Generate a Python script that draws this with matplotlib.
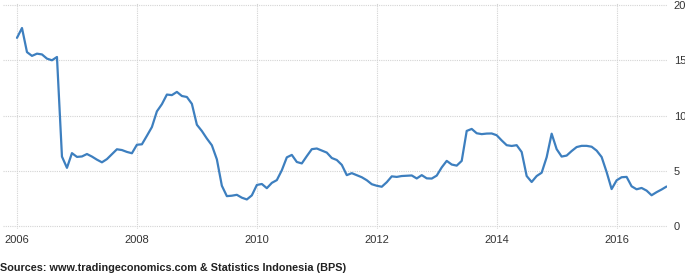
import matplotlib
matplotlib.use("Agg")
import matplotlib.pyplot as plt
import numpy as np

# Indonesia inflation rate (%, YoY), monthly Jan 2006 - Nov 2016
inflation_2006 = [17.03, 17.92, 15.74, 15.40, 15.60, 15.53, 15.15, 15.00, 15.30, 6.29, 5.27, 6.60]
inflation_2007 = [6.26, 6.30, 6.52, 6.29, 6.01, 5.77, 6.06, 6.51, 6.95, 6.88, 6.71, 6.59]
inflation_2008 = [7.36, 7.40, 8.17, 8.96, 10.38, 11.03, 11.90, 11.85, 12.14, 11.77, 11.68, 11.06]
inflation_2009 = [9.17, 8.60, 7.92, 7.31, 6.04, 3.65, 2.71, 2.75, 2.83, 2.57, 2.41, 2.78]
inflation_2010 = [3.72, 3.81, 3.43, 3.91, 4.16, 5.05, 6.22, 6.44, 5.80, 5.67, 6.33, 6.96]
inflation_2011 = [7.02, 6.84, 6.65, 6.16, 5.98, 5.54, 4.61, 4.79, 4.61, 4.42, 4.15, 3.79]
inflation_2012 = [3.65, 3.56, 3.97, 4.50, 4.45, 4.53, 4.56, 4.58, 4.31, 4.61, 4.32, 4.30]
inflation_2013 = [4.57, 5.31, 5.90, 5.57, 5.47, 5.90, 8.61, 8.79, 8.40, 8.32, 8.37, 8.38]
inflation_2014 = [8.22, 7.75, 7.32, 7.25, 7.32, 6.70, 4.53, 3.99, 4.53, 4.83, 6.23, 8.36]
inflation_2015 = [6.96, 6.29, 6.38, 6.79, 7.15, 7.26, 7.26, 7.18, 6.83, 6.25, 4.89, 3.35]
inflation_2016 = [4.14, 4.42, 4.45, 3.60, 3.33, 3.45, 3.21, 2.79, 3.07, 3.31, 3.58]

x_ticks = [2006, 2008, 2010, 2012, 2014, 2016]
y_ticks = [0, 5, 10, 15, 20]
source = "Sources: www.tradingeconomics.com & Statistics Indonesia (BPS)"

values = (inflation_2006 + inflation_2007 + inflation_2008 + inflation_2009 + inflation_2010
          + inflation_2011 + inflation_2012 + inflation_2013 + inflation_2014 + inflation_2015
          + inflation_2016)
years = 2006 + np.arange(len(values)) / 12.0

plt.rcParams['font.family'] = ['Liberation Sans', 'DejaVu Sans']

fig = plt.figure(figsize=(6.85, 2.76), dpi=100)
ax = fig.add_axes([0.0044, 0.170, 0.9693, 0.819])

ax.plot(years, values, color='#3d7fbf', lw=1.6, solid_joinstyle='round', solid_capstyle='round')

ax.set_xlim(2005.767, 2016.84)
ax.set_ylim(-0.27, 20.18)
ax.set_xticks(x_ticks)
ax.set_xticklabels([str(t) for t in x_ticks])
ax.set_yticks(y_ticks)
ax.yaxis.tick_right()

for s in ax.spines.values():
    s.set_visible(False)
ax.tick_params(axis='both', length=0, labelsize=8, colors='#333333')
ax.tick_params(axis='x', pad=4)
ax.tick_params(axis='y', pad=5)
ax.grid(True, color='#d4d4d4', linestyle=(0, (1, 1)), lw=0.8)
ax.set_axisbelow(True)

fig.text(0.0, 0.028, source, fontsize=7.8, fontweight='bold', color='#222222', ha='left', va='center')

fig.savefig('out.png', dpi=100)
